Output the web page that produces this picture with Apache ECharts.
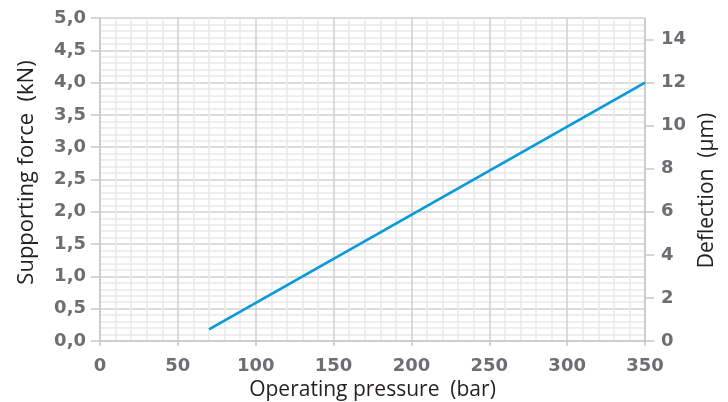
<!DOCTYPE html>
<html>
<head>
<meta charset="utf-8">
<script src="https://cdn.jsdelivr.net/npm/echarts@6/dist/echarts.min.js"></script>
<style>
html,body{margin:0;padding:0;background:#fff;}
#chart{width:728px;height:402px;}
</style>
</head>
<body>
<div id="chart"></div>
<script>
// Data
var pressure = [70, 350];            // bar
var supportingForce = [0.18, 4.0];   // kN
var xTicks = [0, 50, 100, 150, 200, 250, 300, 350];
var leftTicks = [0, 0.5, 1.0, 1.5, 2.0, 2.5, 3.0, 3.5, 4.0, 4.5, 5.0];
var rightTicks = [0, 2, 4, 6, 8, 10, 12, 14];

var labelStyle = {color: '#6d6e71', fontFamily: 'DejaVu Sans', fontWeight: 'bold', fontSize: 18};
function nameStyle(pad, size) {
  return {color: '#231f20', fontFamily: 'Open Sans', fontSize: size || 21, padding: pad};
}

var chart = echarts.init(document.getElementById('chart'), null, {renderer: 'canvas'});
chart.setOption({
  animation: false,
  grid: {left: 100, right: 83, top: 18, bottom: 61, containLabel: false, outerBoundsMode: 'none'},
  xAxis: {
    type: 'value', min: 0, max: 350, interval: 50,
    name: 'Operating pressure  (bar)', nameLocation: 'middle', nameGap: 33, nameTextStyle: nameStyle(0),
    axisLine: {show: true, lineStyle: {color: '#c8c8c8', width: 1.5}},
    axisTick: {show: true, length: 5, lineStyle: {color: '#c8c8c8', width: 1.5}},
    axisLabel: Object.assign({margin: 16, customValues: xTicks}, labelStyle),
    splitLine: {show: true, lineStyle: {color: '#d0d0d0', width: 1.5}},
    minorTick: {show: false, splitNumber: 5},
    minorSplitLine: {show: true, lineStyle: {color: '#e9e9e9', width: 1.5}}
  },
  yAxis: [{
    type: 'value', min: 0, max: 5, interval: 0.5, position: 'left',
    name: 'Supporting force  (kN)', nameLocation: 'middle', nameGap: 62, nameTextStyle: nameStyle([0, 0, 0, 14], 22),
    axisLine: {show: true, lineStyle: {color: '#c8c8c8', width: 1.5}},
    axisTick: {show: true, length: 9, lineStyle: {color: '#c8c8c8', width: 1.5}},
    axisLabel: Object.assign({margin: 14, customValues: leftTicks, formatter: function (v) { return v.toFixed(1).replace('.', ','); }}, labelStyle),
    splitLine: {show: true, lineStyle: {color: '#d0d0d0', width: 1.5}},
    minorTick: {show: false, splitNumber: 5},
    minorSplitLine: {show: true, lineStyle: {color: '#e9e9e9', width: 1.5}}
  }, {
    type: 'value', min: 0, max: 15, interval: 2, position: 'right',
    name: 'Deflection  (µm)', nameLocation: 'middle', nameGap: 51, nameTextStyle: nameStyle([0, 22, 0, 0]),
    axisLine: {show: true, lineStyle: {color: '#c8c8c8', width: 1.5}},
    axisTick: {show: true, length: 9, customValues: rightTicks, lineStyle: {color: '#c8c8c8', width: 1.5}},
    axisLabel: Object.assign({margin: 16, customValues: rightTicks}, labelStyle),
    splitLine: {show: false}
  }],
  series: [{
    type: 'line', yAxisIndex: 0, symbol: 'none',
    data: pressure.map(function (p, i) { return [p, supportingForce[i]]; }),
    lineStyle: {color: '#0a9ad7', width: 2.8}
  }]
});
</script>
</body>
</html>
